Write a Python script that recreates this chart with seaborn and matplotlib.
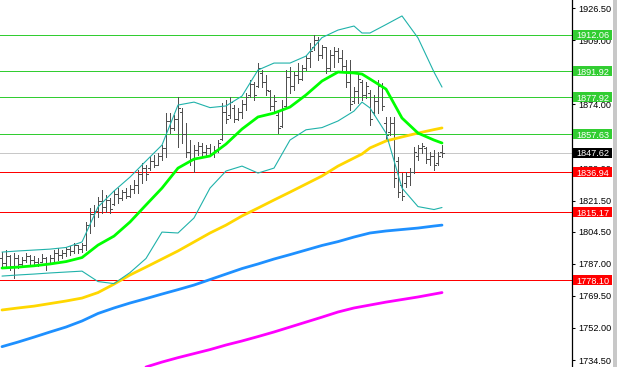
import numpy as np
import pandas as pd
import matplotlib
matplotlib.use("Agg")
import matplotlib.pyplot as plt
import matplotlib.transforms as mtransforms
from matplotlib.patches import Rectangle
import seaborn as sns

# ---------------- data ----------------
bar_high = [
    1793.4, 1794.5, 1791.8, 1792.9, 1791.8, 1790.7, 1792.9, 1791.8, 1791.2, 1790.1,
    1792.3, 1790.7, 1791.8, 1794.5, 1795.6, 1794.5, 1796.1, 1796.7, 1798.3, 1797.2,
    1798.3, 1809.8, 1817.4, 1819.1, 1823.4, 1827.2, 1824.5, 1822.9, 1827.2, 1828.3,
    1827.2, 1828.3, 1830.0, 1832.7, 1838.1, 1842.0, 1840.9, 1845.2, 1846.3, 1847.4,
    1851.8, 1869.2, 1869.2, 1868.2, 1878.0, 1872.0, 1863.8, 1854.5, 1851.8, 1853.5,
    1852.9, 1851.8, 1852.4, 1851.2, 1854.5, 1874.7, 1876.3, 1878.0, 1873.6, 1872.0,
    1876.3, 1880.2, 1887.3, 1886.2, 1896.5, 1892.7, 1890.0, 1881.8, 1879.1, 1870.9,
    1876.3, 1892.7, 1894.3, 1891.6, 1896.5, 1895.4, 1900.9, 1907.4, 1911.8, 1910.7,
    1906.3, 1905.3, 1903.6, 1905.3, 1904.7, 1903.6, 1898.2, 1898.2, 1883.4, 1891.1,
    1887.3, 1886.2, 1881.8, 1879.1, 1887.3, 1885.6, 1867.1, 1867.1, 1867.1, 1845.2,
    1836.5, 1837.1, 1839.2, 1850.7, 1851.8, 1852.9, 1850.7, 1848.0, 1849.1, 1848.0,
    1851.8,
]
bar_low = [
    1785.8, 1784.7, 1783.6, 1779.2, 1784.7, 1785.2, 1788.0, 1786.9, 1786.3, 1785.8,
    1788.0, 1783.6, 1787.4, 1788.0, 1789.0, 1790.1, 1791.2, 1791.8, 1792.9, 1792.9,
    1793.4, 1794.5, 1803.8, 1807.6, 1812.5, 1814.7, 1815.2, 1814.7, 1819.1, 1820.1,
    1821.8, 1822.9, 1823.4, 1825.6, 1825.6, 1831.1, 1832.7, 1838.1, 1839.8, 1840.9,
    1843.6, 1845.2, 1858.3, 1860.0, 1850.7, 1852.9, 1845.2, 1840.9, 1837.1, 1846.3,
    1845.2, 1845.2, 1845.8, 1845.2, 1848.0, 1854.5, 1863.8, 1866.5, 1864.3, 1865.4,
    1866.5, 1870.9, 1878.0, 1876.3, 1883.4, 1883.4, 1879.1, 1870.9, 1869.8, 1858.3,
    1861.6, 1872.5, 1880.2, 1881.8, 1885.6, 1887.3, 1892.7, 1894.3, 1903.6, 1898.2,
    1899.3, 1891.1, 1892.7, 1894.3, 1897.1, 1892.7, 1883.4, 1870.9, 1874.7, 1874.7,
    1876.3, 1877.4, 1862.7, 1868.2, 1869.2, 1870.9, 1854.5, 1857.2, 1828.9, 1823.4,
    1821.8, 1828.9, 1830.0, 1836.5, 1843.6, 1847.4, 1842.0, 1840.9, 1838.1, 1840.9,
    1845.2,
]
bar_open = [
    1790, 1787.5, 1791, 1786, 1790, 1787, 1789, 1791, 1789, 1788,
    1788, 1790, 1787.5, 1790, 1793, 1792, 1793, 1795, 1794, 1797,
    1795, 1797, 1808, 1814, 1816, 1821, 1818, 1822, 1819.5, 1825,
    1823, 1826, 1824, 1828, 1830, 1836, 1839, 1839, 1843, 1841,
    1846, 1850, 1865, 1861, 1866, 1870, 1858, 1848, 1844, 1849,
    1851, 1848, 1850, 1847, 1849, 1855, 1870, 1868, 1872, 1866,
    1870, 1874, 1879, 1885, 1884, 1891, 1886, 1881, 1873, 1868,
    1862, 1873, 1889, 1884, 1890, 1888, 1894, 1899, 1905, 1909,
    1901, 1905, 1894, 1901, 1903, 1899, 1895, 1886, 1876, 1881,
    1886, 1879, 1880, 1870, 1876, 1884, 1864, 1859, 1864, 1843,
    1830, 1831, 1835, 1837, 1846, 1850, 1850, 1844, 1846, 1842,
    1848,
]
bar_close = [
    1787.5, 1791, 1786, 1790, 1787, 1789, 1791, 1789, 1788, 1787,
    1790, 1787, 1790, 1793, 1792, 1793, 1795, 1794, 1797, 1795,
    1797, 1808, 1814, 1816, 1821, 1818, 1822, 1817, 1825, 1823,
    1826, 1824, 1828, 1830, 1836, 1839, 1836, 1843, 1841, 1846,
    1850, 1865, 1861, 1866, 1872, 1858, 1848, 1844, 1849, 1851,
    1848, 1850, 1847, 1849, 1853, 1870, 1866, 1875, 1866, 1870,
    1874, 1878, 1885, 1879, 1894, 1886, 1882, 1873, 1876, 1861,
    1872, 1889, 1884, 1890, 1888, 1894, 1899, 1903, 1909, 1901,
    1905, 1894, 1901, 1903, 1899, 1895, 1886, 1874, 1881, 1888,
    1879, 1884, 1866, 1876, 1884, 1873, 1857, 1864, 1834, 1826,
    1824, 1835, 1837, 1848, 1850, 1851, 1844, 1846, 1841, 1846,
    1847.62,
]

line_idx = [0, 4, 8, 12, 16, 20, 24, 28, 32, 36, 40, 44, 48, 52, 56, 60, 64, 68,
            72, 76, 80, 84, 88, 90, 92, 96, 100, 104, 108, 110]
bb_mid = [1784.7, 1785.2, 1785.9, 1786.9, 1788.2, 1790.4, 1797.2, 1802.1, 1809.8,
          1819.1, 1828.3, 1839.2, 1844.1, 1845.8, 1852.3, 1860.5, 1867.1, 1869.2,
          1872.5, 1879.1, 1886.7, 1891.6, 1891.1, 1890.5, 1887.8, 1882.3, 1866.5,
          1858.3, 1854.5, 1852.9]
bb_upper = [1793.4, 1794.0, 1794.5, 1795.0, 1795.9, 1798.9, 1818.0, 1826.7, 1834.3,
            1843.1, 1851.8, 1873.6, 1875.2, 1872.2, 1873.1, 1878.5, 1892.7, 1896.5,
            1896.5, 1900.3, 1910.4, 1914.5, 1916.7, 1912.9, 1912.9, 1917.5, 1922.2,
            1910.2, 1891.6, 1883.4]
bb_lower = [1780.3, 1780.9, 1781.4, 1782.0, 1782.5, 1783.0, 1777.3, 1776.2, 1782.2,
            1789.9, 1804.3, 1803.8, 1812.0, 1828.3, 1837.6, 1840.3, 1836.5, 1839.2,
            1854.5, 1860.1, 1861.3, 1864.9, 1870.3, 1875.2, 1872.0, 1858.3, 1828.3,
            1818.2, 1816.6, 1817.7]
ma_yellow = [1761.8, 1762.9, 1763.9, 1765.3, 1766.7, 1768.3, 1771.3, 1775.9, 1780.9,
             1785.2, 1789.6, 1794.0, 1798.9, 1803.8, 1808.1, 1813.1, 1817.4, 1821.8,
             1826.1, 1830.5, 1834.9, 1840.3, 1844.7, 1846.9, 1850.2, 1854.0, 1856.2,
             1858.3, 1860.2, 1861.1]
ma_blue = [1741.8, 1744.3, 1747.0, 1749.8, 1752.5, 1755.8, 1759.9, 1762.9, 1765.6,
           1768.0, 1770.5, 1772.9, 1775.4, 1778.4, 1781.4, 1784.4, 1786.9, 1789.6,
           1792.0, 1794.5, 1797.0, 1799.1, 1801.6, 1802.7, 1803.8, 1804.9, 1805.7,
           1806.5, 1807.6, 1808.1]
ma_magenta = [np.nan] * 9 + [1730.7, 1733.4, 1735.8, 1738.0, 1740.2, 1742.7, 1744.9,
                             1747.3, 1749.8, 1752.5, 1755.2, 1757.9, 1760.7, 1762.9,
                             1763.7, 1764.5, 1766.1, 1767.5, 1768.9, 1770.5, 1771.3]

level_values = [1912.06, 1891.92, 1877.92, 1857.63, 1836.94, 1815.17, 1778.10]
level_kinds = ["res", "res", "res", "res", "sup", "sup", "sup"]
current_price = 1847.62
tick_values = [1926.50, 1909.00, 1891.50, 1874.00, 1856.50, 1839.00, 1821.50,
               1804.50, 1787.00, 1769.50, 1752.00, 1734.50]
# tick labels fully covered by a price box in the reference
tick_hidden = [1891.50, 1856.50]

# ---------------- styling ----------------
sns.set_style("white")
plt.rcParams["font.family"] = ["Liberation Sans", "DejaVu Sans"]

W, H = 617, 367
AX_W = 572
fig = plt.figure(figsize=(W / 100, H / 100), dpi=100)
ax = fig.add_axes([0, 0, AX_W / W, 1])
YMIN, YMAX = 1730.7, 1930.9
ax.set_xlim(-0.5, 142.5)
ax.set_ylim(YMIN, YMAX)

level_color = {"res": "#32CD32", "sup": "#FF0000"}
ONE_PX = 0.72

# horizontal levels
for v, k in zip(level_values, level_kinds):
    ax.axhline(v, color=level_color[k], lw=ONE_PX, zorder=1, antialiased=False)
ax.axhline(current_price, color="#C8C8C8", lw=ONE_PX, zorder=1, antialiased=False)

# OHLC bars
idx = np.arange(len(bar_close))
bar_col = "#505050"
ax.vlines(idx, bar_low, bar_high, color=bar_col, lw=ONE_PX, zorder=2, antialiased=False)
ax.hlines(bar_open, idx - 0.5, idx, color=bar_col, lw=ONE_PX, zorder=2, antialiased=False)
ax.hlines(bar_close, idx, idx + 0.5, color=bar_col, lw=ONE_PX, zorder=2, antialiased=False)

# indicator lines
lines = pd.DataFrame({
    "idx": line_idx, "mid": bb_mid, "upper": bb_upper, "lower": bb_lower,
    "yellow": ma_yellow, "blue": ma_blue, "magenta": ma_magenta,
})
styles = [
    ("magenta", "#FF00FF", 2.0),
    ("blue", "#1E90FF", 2.0),
    ("yellow", "#FFD700", 2.0),
    ("upper", "#20B2AA", 0.8),
    ("lower", "#20B2AA", 0.8),
    ("mid", "#00FF00", 2.0),
]
for col, c, lw in styles:
    sub = lines[["idx", col]].dropna()
    sns.lineplot(data=sub, x="idx", y=col, color=c, lw=lw, ax=ax,
                 estimator=None, sort=True, zorder=3)

ax.set_xlabel("")
ax.set_ylabel("")
ax.set_xticks([])

# right price axis
ax.yaxis.tick_right()
ax.set_yticks(tick_values)
ax.set_yticklabels(["" if v in tick_hidden else f"{v:.2f}" for v in tick_values])
ax.tick_params(axis="y", direction="out", length=2.2, width=0.75, pad=2.2,
               labelsize=6.6, colors="black")
for s in ["left", "top", "bottom"]:
    ax.spines[s].set_visible(False)
ax.spines["right"].set_color("black")
ax.spines["right"].set_linewidth(0.9)

# price label boxes
trans = mtransforms.blended_transform_factory(ax.transAxes, ax.transData)
px_per_unit = H / (YMAX - YMIN)
box_h = 10 / px_per_unit
box_x0 = 1 + 1 / AX_W
box_w = 39 / AX_W
labels = [(v, level_color[k]) for v, k in zip(level_values, level_kinds)]
labels.append((current_price, "#000000"))
for v, fc in labels:
    ax.add_patch(Rectangle((box_x0, v - box_h / 2), box_w, box_h, transform=trans,
                           fc=fc, ec="none", clip_on=False, zorder=5))
    ax.text(box_x0 + box_w / 2, v, f"{v:.2f}", transform=trans, ha="center",
            va="center_baseline", color="white", fontsize=6.6, zorder=6, clip_on=False)

# grey strip at right edge
fig.add_artist(Rectangle((613 / W, 0), 4 / W, 1, transform=fig.transFigure,
                         fc="#C8C8C8", ec="none"))

fig.savefig("out.png", dpi=100)
